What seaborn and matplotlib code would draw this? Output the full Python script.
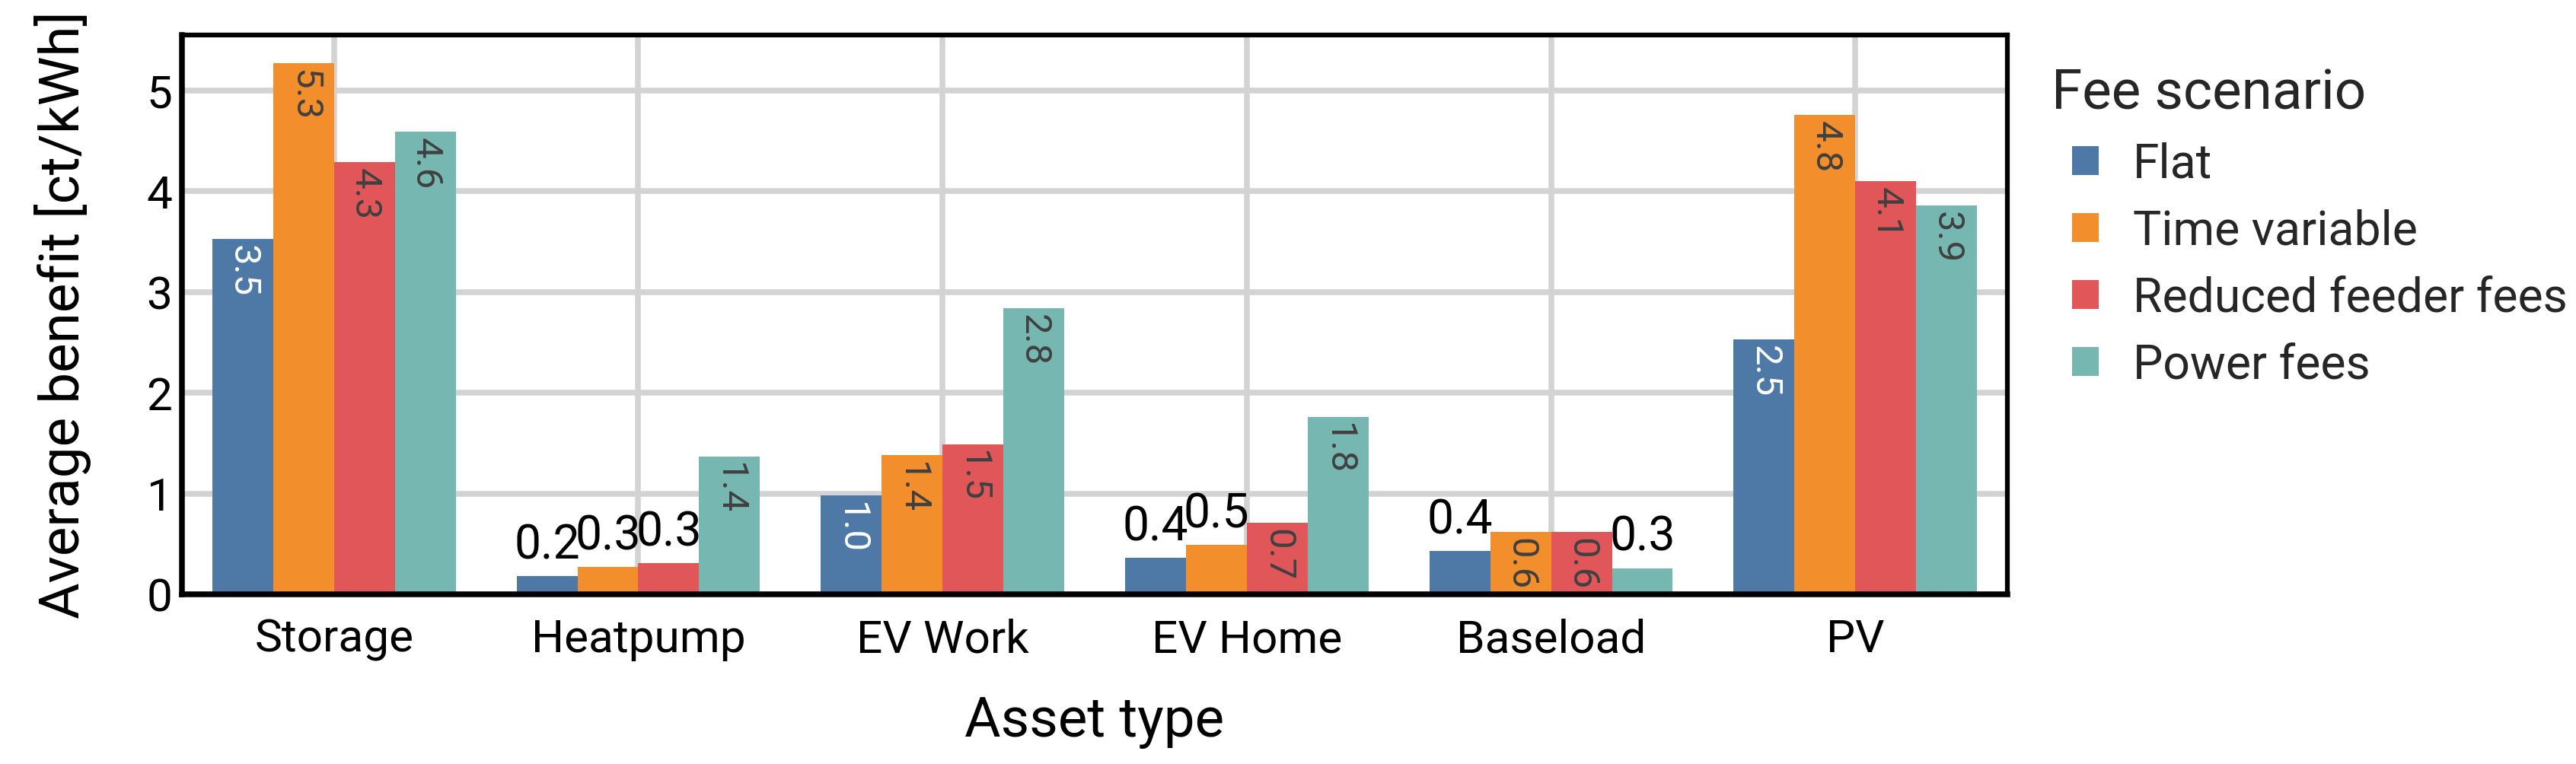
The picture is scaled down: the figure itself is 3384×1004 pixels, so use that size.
import matplotlib
matplotlib.use("Agg")
import matplotlib.pyplot as plt
import numpy as np
import pandas as pd
import seaborn as sns

# values
assets = ["Storage", "Heatpump", "EV Work", "EV Home", "Baseload", "PV"]
scenarios = ["Flat", "Time variable", "Reduced feeder fees", "Power fees"]
flat = [3.53, 0.18, 0.98, 0.36, 0.43, 2.53]
time_variable = [5.27, 0.27, 1.38, 0.49, 0.62, 4.76]
reduced_feeder = [4.29, 0.31, 1.49, 0.71, 0.62, 4.10]
power_fees = [4.59, 1.37, 2.84, 1.76, 0.26, 3.86]

colors = ["#4E79A7", "#F28E2B", "#E15759", "#76B7B2"]
inside_text = ["white", "#404040", "#404040", "#404040"]


def main() -> None:
    sns.set_theme(style="whitegrid")
    plt.rcParams["font.family"] = ["Roboto", "DejaVu Sans"]

    series = [flat, time_variable, reduced_feeder, power_fees]
    df = pd.DataFrame({
        "asset": np.tile(assets, len(scenarios)),
        "scenario": np.repeat(scenarios, len(assets)),
        "benefit": np.concatenate(series),
    })

    fig = plt.figure(figsize=(3384 / 300, 1004 / 300), dpi=300)
    ax = fig.add_axes([0.0706, 0.2221, 0.7087, 0.7321])

    sns.barplot(
        data=df, x="asset", y="benefit", hue="scenario",
        order=assets, hue_order=scenarios, palette=colors,
        width=0.8, saturation=1.0, errorbar=None, linewidth=0,
        edgecolor="none", ax=ax,
    )

    ax.set_xlim(-0.5, len(assets) - 0.5)
    ax.set_ylim(0, 5.55)
    ax.set_yticks(range(0, 6))

    # value labels: inside the bar (rotated) when tall enough, otherwise on top
    for i, container in enumerate(ax.containers):
        for bar, val in zip(container, series[i]):
            cx = bar.get_x() + bar.get_width() / 2
            h = bar.get_height()
            if h > 0.55:
                ax.annotate(
                    f"{val:.1f}", (cx, h), xytext=(0, -2.0), textcoords="offset points",
                    rotation=270, ha="center", va="top", fontsize=11.8,
                    color=inside_text[i],
                )
            else:
                ax.annotate(
                    f"{val:.1f}", (cx, h), xytext=(0, 5.5), textcoords="offset points",
                    ha="center", va="baseline", fontsize=15, color="black",
                )

    ax.grid(True, color="#d3d3d3", linewidth=1.8)
    ax.set_axisbelow(True)
    for side in ["left", "bottom"]:
        ax.spines[side].set_linewidth(1.8)
        ax.spines[side].set_color("black")
    for side in ["top", "right"]:
        ax.spines[side].set_linewidth(1.5)
        ax.spines[side].set_color("black")

    ax.tick_params(axis="both", length=0, labelsize=14.5, colors="black", pad=3)
    ax.tick_params(axis="x", pad=7.5)
    ax.set_xlabel("Asset type", fontsize=17.5, labelpad=11, color="black")
    ax.set_ylabel("Average benefit [ct/kWh]", fontsize=17.5, labelpad=17.5, color="black")

    handles, labels = ax.get_legend_handles_labels()
    leg = ax.legend(
        handles, labels, title="Fee scenario", loc="upper left",
        bbox_to_anchor=(2695 / 3384, 1 - 90 / 1004), bbox_transform=fig.transFigure,
        frameon=False, fontsize=15, title_fontsize=17.5, alignment="left",
        handlelength=0.56, handleheight=0.56, handletextpad=0.72,
        labelspacing=0.45, borderpad=0, borderaxespad=0,
    )
    # indent the entries under the title, as in the reference
    indent = 27 / 300 * 72
    leg._legend_handle_box.pad = indent
    leg._legend_box.sep = max(0.0, leg._legend_box.sep - indent - 2.5)

    fig.savefig("out.png", dpi=300)
    plt.close(fig)


if __name__ == "__main__":
    main()
